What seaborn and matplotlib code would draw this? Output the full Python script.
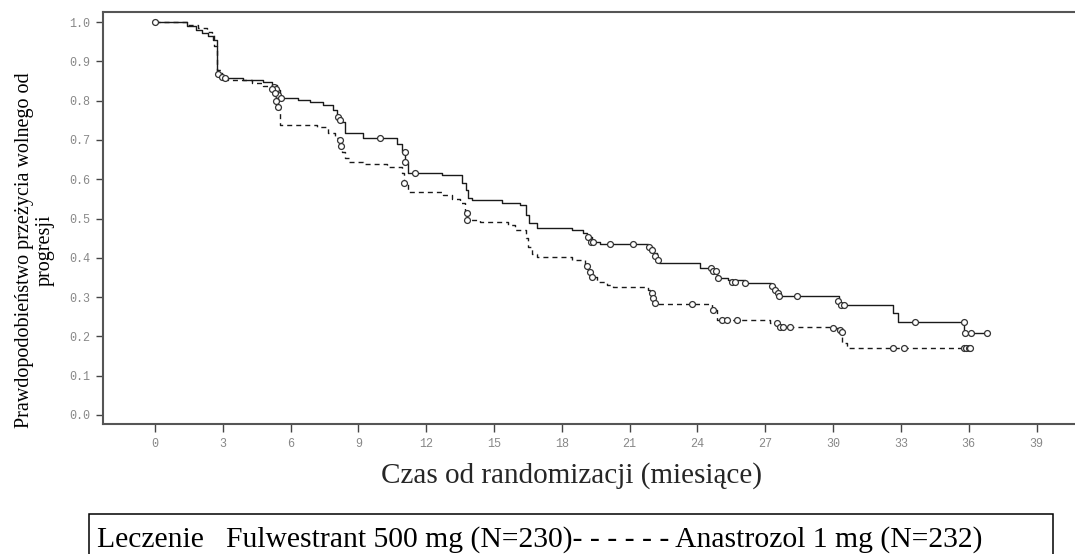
import numpy as np
import pandas as pd
import matplotlib
matplotlib.use("Agg")
import matplotlib.pyplot as plt
from matplotlib.patches import Rectangle
import seaborn as sns

# krzywe Kaplana-Meiera: czas zmiany [mies.], nowa wartosc
fulw_t = [0, 1.40, 1.84, 2.10, 2.36, 2.58, 2.73, 2.88, 3.02, 3.91, 4.79, 5.16, 5.38, 5.53,
          6.34, 6.86, 7.45, 7.89, 8.04, 8.22, 8.41, 9.22, 10.69, 10.92, 11.06, 11.21,
          12.68, 13.57, 13.76, 13.87, 14.01, 15.34, 16.15, 16.42, 16.56, 16.89, 18.44,
          18.92, 19.10, 19.32, 19.69, 21.83, 22.02, 22.20, 22.32, 24.12, 24.63, 24.85,
          25.37, 26.10, 27.24, 27.43, 27.58, 30.24, 30.31, 32.67, 32.85, 35.81, 36.80]
fulw_s = [1.0, 0.990, 0.980, 0.972, 0.965, 0.954, 0.869, 0.861, 0.857, 0.853, 0.848, 0.840,
          0.827, 0.808, 0.803, 0.797, 0.789, 0.776, 0.759, 0.746, 0.718, 0.706, 0.691,
          0.670, 0.645, 0.615, 0.611, 0.590, 0.573, 0.551, 0.547, 0.540, 0.534, 0.509,
          0.488, 0.477, 0.471, 0.462, 0.452, 0.441, 0.435, 0.427, 0.411, 0.394, 0.386,
          0.373, 0.367, 0.349, 0.344, 0.335, 0.327, 0.318, 0.303, 0.291, 0.279, 0.259,
          0.237, 0.209, 0.209]

anas_t = [0, 1.40, 1.90, 2.30, 2.51, 2.62, 2.76, 2.95, 3.24, 4.28, 4.79, 5.16, 5.31, 5.46,
          5.53, 7.15, 7.67, 7.96, 8.16, 8.26, 8.41, 8.60, 9.22, 10.25, 10.92, 11.02, 11.21,
          12.76, 13.13, 13.50, 13.72, 13.79, 14.38, 15.63, 15.93, 16.42, 16.52, 16.67,
          16.89, 18.44, 19.03, 19.17, 19.32, 19.54, 19.99, 20.28, 21.83, 21.98, 22.12,
          24.63, 24.85, 27.21, 27.51, 29.94, 30.24, 30.38, 30.60, 36.06]
anas_s = [1.0, 0.992, 0.985, 0.975, 0.967, 0.940, 0.878, 0.857, 0.852, 0.846, 0.837, 0.827,
          0.800, 0.780, 0.738, 0.732, 0.717, 0.704, 0.687, 0.670, 0.653, 0.645, 0.639,
          0.632, 0.615, 0.591, 0.568, 0.560, 0.549, 0.539, 0.513, 0.496, 0.492, 0.483,
          0.471, 0.450, 0.428, 0.410, 0.401, 0.394, 0.382, 0.369, 0.352, 0.339, 0.331,
          0.326, 0.318, 0.297, 0.282, 0.267, 0.242, 0.235, 0.225, 0.221, 0.215, 0.184,
          0.170, 0.170]

# obserwacje ocenzurowane
fulw_cens_t = [0, 2.80, 2.95, 3.10, 5.25, 5.35, 5.45, 5.60, 8.10, 8.20, 9.96, 11.06, 11.06,
               11.50, 19.15, 19.30, 19.40, 20.13, 21.15, 21.85, 22.00, 22.10, 22.25, 24.60,
               24.70, 24.80, 24.90, 25.52, 25.66, 26.10, 27.30, 27.45, 27.55, 27.60, 28.39,
               30.20, 30.35, 30.50, 33.63, 35.81, 35.85, 36.10, 36.80]
fulw_cens_s = [1.0, 0.869, 0.861, 0.857, 0.835, 0.830, 0.815, 0.808, 0.759, 0.750, 0.706,
               0.670, 0.645, 0.615, 0.452, 0.441, 0.441, 0.435, 0.435, 0.427, 0.420, 0.405,
               0.394, 0.373, 0.367, 0.367, 0.349, 0.339, 0.339, 0.335, 0.327, 0.318, 0.310,
               0.303, 0.303, 0.291, 0.279, 0.279, 0.237, 0.237, 0.209, 0.209, 0.209]
anas_cens_t = [5.20, 5.30, 5.35, 5.45, 8.20, 8.25, 11.02, 13.79, 13.79, 19.10, 19.25, 19.35,
               22.00, 22.05, 22.10, 23.75, 24.70, 25.07, 25.29, 25.74, 27.50, 27.65, 27.80,
               28.10, 30.00, 30.30, 30.40, 32.67, 33.14, 35.80, 35.90, 36.00, 36.06]
anas_cens_s = [0.830, 0.820, 0.800, 0.785, 0.700, 0.685, 0.591, 0.513, 0.496, 0.380, 0.365,
               0.352, 0.310, 0.297, 0.285, 0.282, 0.267, 0.242, 0.242, 0.242, 0.235, 0.225,
               0.225, 0.225, 0.221, 0.215, 0.210, 0.170, 0.170, 0.170, 0.170, 0.170, 0.170]

groups = ["Fulwestrant 500 mg", "Anastrozol 1 mg"]
x_ticks = list(range(0, 40, 3))
y_ticks = [0.0, 0.1, 0.2, 0.3, 0.4, 0.5, 0.6, 0.7, 0.8, 0.9, 1.0]

curves = pd.concat([
    pd.DataFrame({"czas": fulw_t, "pfs": fulw_s, "grupa": groups[0]}),
    pd.DataFrame({"czas": anas_t, "pfs": anas_s, "grupa": groups[1]}),
], ignore_index=True)
cens = pd.concat([
    pd.DataFrame({"czas": fulw_cens_t, "pfs": fulw_cens_s, "grupa": groups[0]}),
    pd.DataFrame({"czas": anas_cens_t, "pfs": anas_cens_s, "grupa": groups[1]}),
], ignore_index=True)

sns.set_theme(style="ticks")
plt.rcParams["font.family"] = ["Liberation Serif", "DejaVu Serif"]

fig = plt.figure(figsize=(10.75, 5.54), dpi=100)
ax = fig.add_axes([0.0955, 0.2347, 0.9045, 0.7431])

sns.lineplot(data=curves, x="czas", y="pfs", style="grupa",
             dashes={groups[0]: "", groups[1]: (3.6, 2.9)},
             color="#1a1a1a", linewidth=1.0, drawstyle="steps-post",
             estimator=None, legend=False, ax=ax)
sns.scatterplot(data=cens, x="czas", y="pfs", marker="o", s=18,
                facecolor="white", edgecolor="#333333", linewidth=0.9,
                legend=False, ax=ax, zorder=3)

ax.set_xlim(-2.31, 40.7)
ax.set_ylim(-0.023, 1.025)
ax.set_xticks(x_ticks)
ax.set_yticks(y_ticks)
ax.set_xticklabels([str(t) for t in x_ticks])
ax.set_yticklabels([f"{v:.1f}" for v in y_ticks])
for lab in ax.get_xticklabels() + ax.get_yticklabels():
    lab.set_family("Liberation Mono")
    lab.set_fontsize(8.5)
    lab.set_color("#888888")
ax.tick_params(axis="both", direction="out", length=5.4, width=1.0, color="#444444", pad=3.6)
ax.tick_params(axis="x", pad=5)
for side in ["left", "bottom", "top"]:
    ax.spines[side].set_color("#555555")
    ax.spines[side].set_linewidth(1.5)
ax.spines["right"].set_visible(False)

ax.set_xlabel("Czas od randomizacji (miesiące)", fontsize=21)
ax.xaxis.label.set_va("baseline")
ax.xaxis.set_label_coords(0.482, -0.143)
ax.set_ylabel("")

fig.text(35 / 1075, 1 - 250 / 554,
         "Prawdopodobieństwo przeżycia wolnego od\nprogresji",
         rotation=90, ha="center", va="center", multialignment="center",
         fontsize=14.5, linespacing=1.1, color="black")

# ramka legendy
fig.patches.append(Rectangle((89 / 1075, -0.1), (1053 - 89) / 1075, 0.1 + (1 - 514 / 554),
                             transform=fig.transFigure, fill=False,
                             edgecolor="black", linewidth=1.1, clip_on=False))
fig.text(97 / 1075, 1 - 547 / 554,
         "Leczenie   Fulwestrant 500 mg (N=230)- - - - - - Anastrozol 1 mg (N=232)",
         fontsize=21.3, va="baseline", ha="left", color="black")

fig.savefig("out.png", dpi=100)
